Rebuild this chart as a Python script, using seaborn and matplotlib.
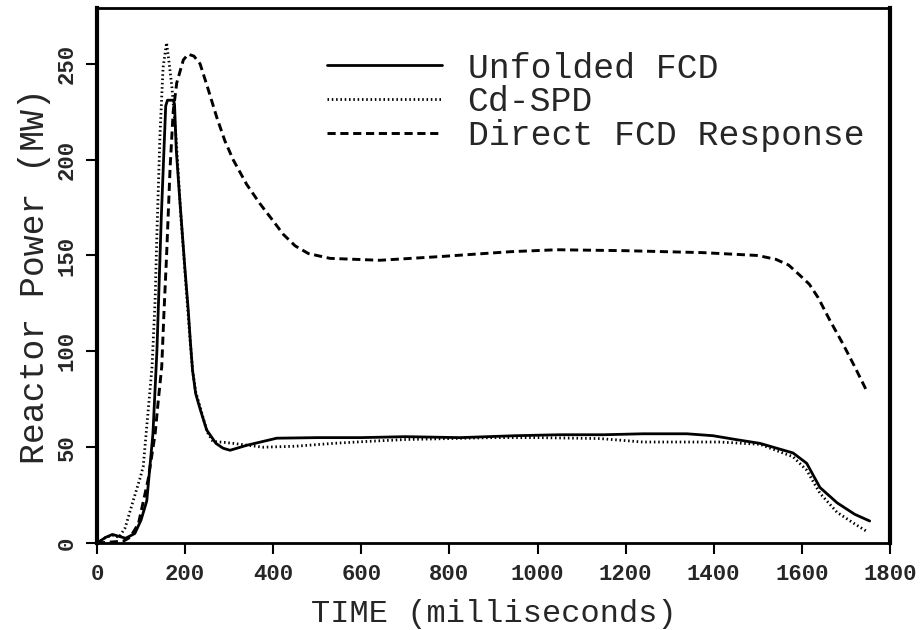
import numpy as np
import pandas as pd
import matplotlib
matplotlib.use("Agg")
import matplotlib.pyplot as plt
import seaborn as sns

# --- data (time in ms, power in MW) ---
unfolded_t = [0, 20, 35, 50, 65, 86, 100, 113, 127, 136, 146, 156, 160, 173, 176,
              180, 188, 200, 207, 212, 217, 224, 234, 249, 270, 286, 302, 340,
              408, 500, 600, 700, 824, 950, 1050, 1150, 1239, 1339, 1398, 1450,
              1505, 1580, 1611, 1641, 1680, 1720, 1754]
unfolded_p = [0, 3, 4.5, 3.5, 2.5, 5, 12, 22, 57, 100, 170, 228, 231, 231, 229,
              205, 179, 142, 122, 105, 90, 78, 70, 59, 52, 49.5, 48.4, 51,
              54.7, 55, 55, 55.5, 55, 56, 56.5, 56.5, 57, 57, 56, 54,
              52, 47, 41.6, 29, 21, 15, 11.5]

cdspd_t = [0, 20, 35, 50, 64, 82, 98, 105, 125, 132, 136, 143, 150, 158, 164,
           170, 180, 190, 204, 212, 217, 224, 234, 250, 263, 290, 309, 377,
           450, 536, 612, 700, 800, 900, 1000, 1142, 1239, 1414, 1505, 1580,
           1611, 1641, 1680, 1720, 1750]
cdspd_p = [0, 3, 4, 3, 8, 22, 34, 40, 92, 127, 161, 213, 248, 261, 250,
           238, 210, 172, 128, 104, 90, 79, 71, 58, 53, 52.5, 52, 50,
           50.5, 52, 53, 54, 54.5, 55, 55, 54.5, 52.7, 52.7, 51.5, 45,
           38, 26, 16, 10, 5.7]

direct_t = [0, 30, 60, 75, 94, 116, 132, 139, 147, 152, 158, 166, 173, 181,
            196, 207, 220, 234, 252, 272, 290, 309, 340, 370, 400, 423, 450,
            480, 529, 642, 783, 940, 1044, 1201, 1375, 1500, 1541, 1570, 1594,
            1617, 1637, 1664, 1693, 1720, 1748]
direct_p = [0, 0.5, 1, 3, 10, 33, 57, 74, 92, 120, 150, 196, 225, 240,
            252, 255, 254, 250, 237, 222, 210, 200, 187, 177, 168, 161, 155,
            151, 148.5, 147.5, 149.5, 152, 153, 152.5, 151.5, 150, 148, 145,
            140, 135, 128, 116, 104, 92, 79]

labels = ["Unfolded FCD", "Cd-SPD", "Direct FCD Response"]
x_ticks = [0, 200, 400, 600, 800, 1000, 1200, 1400, 1600, 1800]
y_ticks = [0, 50, 100, 150, 200, 250]

sns.set_style("ticks")
plt.rcParams["font.family"] = ["Liberation Mono", "DejaVu Sans Mono"]

fig = plt.figure(figsize=(9.21, 6.3), dpi=100)
ax = fig.add_axes([0.1053, 0.138, 0.861, 0.849])

sns.lineplot(x=unfolded_t, y=unfolded_p, ax=ax, color="black", linewidth=2.0,
             linestyle="-", label=labels[0])
sns.lineplot(x=cdspd_t, y=cdspd_p, ax=ax, color="black", linewidth=2.0,
             label=labels[1])
sns.lineplot(x=direct_t, y=direct_p, ax=ax, color="black", linewidth=2.1,
             label=labels[2])
lines = ax.get_lines()
lines[1].set_linestyle((0, (0.55, 1.0)))
lines[2].set_linestyle((0, (2.8, 1.6)))

ax.set_xlim(0, 1800)
ax.set_ylim(0, 279)
ax.set_xticks(x_ticks)
ax.set_yticks(y_ticks)
ax.tick_params(axis="both", direction="out", length=8, width=1.5,
               labelsize=16, color="black")
ax.tick_params(axis="x", pad=7)
ax.tick_params(axis="y", pad=6)
for lab in ax.get_xticklabels() + ax.get_yticklabels():
    lab.set_fontweight("bold")
for lab in ax.get_yticklabels():
    lab.set_rotation(90)
    lab.set_va("center")

for side in ["left", "right"]:
    ax.spines[side].set_linewidth(3.0)
for side in ["top", "bottom"]:
    ax.spines[side].set_linewidth(2.0)
for side in ax.spines:
    ax.spines[side].set_visible(True)
    ax.spines[side].set_color("black")

ax.set_xlabel("TIME (milliseconds)", fontsize=23, labelpad=10)
ax.set_ylabel("Reactor Power (MW)", fontsize=25, labelpad=4)

leg = ax.legend(loc="upper left", bbox_to_anchor=(0.29, 0.919), frameon=False,
                fontsize=25, handlelength=3.3, handletextpad=0.75,
                labelspacing=0.02, borderpad=0, borderaxespad=0)

plt.savefig("out.png", dpi=100)
